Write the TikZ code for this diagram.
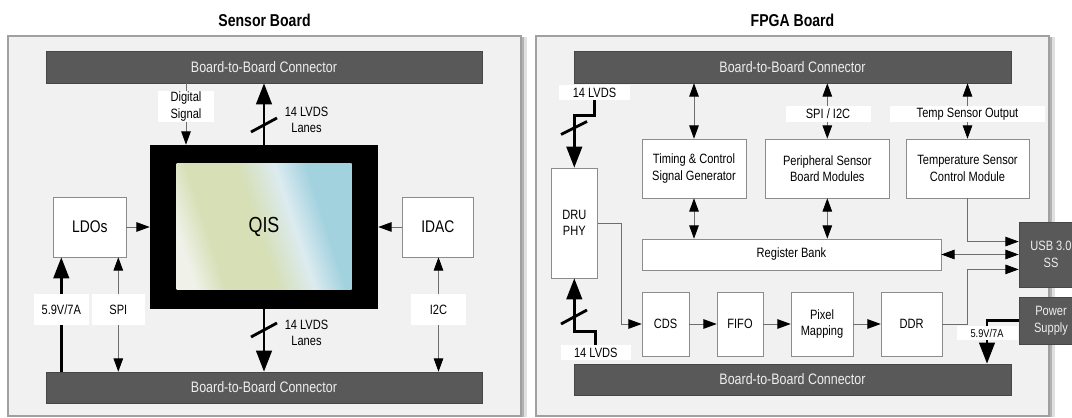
\documentclass[tikz,border=0pt]{standalone}
\usepackage{fontspec}
\setmainfont{Liberation Sans}[FakeStretch=0.82]
\usetikzlibrary{arrows.meta}
\usetikzlibrary{shadows}

\definecolor{panelbg}{HTML}{F1F1F1}
\definecolor{panelline}{HTML}{A0A0A0}
\definecolor{conngray}{HTML}{595959}
\definecolor{connline}{HTML}{474747}
\definecolor{conntext}{HTML}{EEEEEE}
\definecolor{boxline}{HTML}{8C8C8C}
\definecolor{linegray}{HTML}{6E6E6E}
\definecolor{qisa}{HTML}{F0F2EA}
\definecolor{qisb}{HTML}{D6DFB6}
\definecolor{qisc}{HTML}{DCEBF0}
\definecolor{qisd}{HTML}{A3D2DF}

\pgfdeclarehorizontalshading{qisshade}{100bp}{color(0bp)=(qisa); color(24bp)=(qisa); color(33bp)=(qisb); color(48bp)=(qisb); color(59bp)=(qisc); color(68bp)=(qisd); color(100bp)=(qisd)}

\newcommand{\pxl}{0.025cm}
\newcommand{\lbl}{\fontsize{9.6}{11.8}\selectfont}

\begin{document}
\begin{tikzpicture}[%
  x=\pxl, y=-\pxl,
  >={Triangle[length=9.5pt,width=6.8pt,color=black]},
  panel/.style 2 args={draw=panelline, fill=panelbg, line width=0.9pt,
    minimum width=#1*\pxl, minimum height=#2*\pxl, inner sep=0pt,
    drop shadow={shadow xshift=4pt, shadow yshift=-1pt, opacity=0.12, fill=black},
    drop shadow={shadow xshift=2pt, shadow yshift=-1pt, opacity=0.2, fill=black}},
  conn/.style 2 args={draw=connline, fill=conngray, text=conntext,
    minimum width=#1*\pxl, minimum height=#2*\pxl, inner sep=0pt,
    font=\fontsize{10.8}{12}\selectfont, align=center},
  box/.style 2 args={draw=boxline, fill=white, minimum width=#1*\pxl,
    minimum height=#2*\pxl, inner sep=0pt, font=\lbl, align=center},
  tag/.style 2 args={fill=white, minimum width=#1*\pxl,
    minimum height=#2*\pxl, inner sep=0pt, font=\lbl, align=center},
  note/.style={inner sep=0pt, font=\lbl, align=center},
  title/.style={font=\bfseries\fontsize{12.2}{14}\selectfont},
  sig/.style={draw=linegray, line width=0.6pt},
  bus/.style={line width=2pt, black, >={Triangle[length=15pt,width=11pt]}},
  slash/.style={line width=2pt, black},
]

  \useasboundingbox (0,0) rectangle (1072,418);
  \fill[white] (0,0) rectangle (1072,418);

  % boards
  \node[panel={513}{380}] (pl) at (264.5,226) {};
  \node[panel={513}{380}] (pr) at (792.5,226) {};
  \node[title] (tl) at (264.5,20) {Sensor Board};
  \node[title] (tr) at (792.5,20) {FPGA Board};

  % sensor board
  \node[conn={436}{32}] (topl) at (264,67) {Board-to-Board Connector};
  \node[conn={436}{31}] (botl) at (264,387.5) {Board-to-Board Connector};

  \node[fill=black, minimum width=228*\pxl, minimum height=164*\pxl] (qis) at (264,227) {};
  \node[shade, shading=qisshade, shading angle=18, minimum width=175*\pxl,
    minimum height=126*\pxl, font=\fontsize{15.5}{17}\selectfont] (qisin) at (264,227) {QIS};

  \node[box={72.5}{60}, font=\fontsize{12}{14}\selectfont] (ldo) at (89.8,227) {LDOs};
  \node[box={71.7}{60}, font=\fontsize{12}{14}\selectfont] (idac) at (437.9,227) {IDAC};

  \node[tag={56}{31}] (dig) at (186,106.5) {Digital\\Signal};
  \node[tag={54.5}{31}] (pwrl) at (61.3,309.5) {5.9V/7A};
  \node[tag={53.6}{31}] (spil) at (118.3,309.5) {SPI};
  \node[tag={55}{31}] (i2cl) at (438.5,309.5) {I2C};
  \node[note] (lvt) at (306.5,120) {14 LVDS\\Lanes};
  \node[note] (lvb) at (306.5,333) {14 LVDS\\Lanes};

  \draw[sig] (topl.south -| dig) -- (dig.north);
  \draw[sig,->] (dig.south) -- (qis.north -| dig);
  \draw[bus,->] (qis.north) -- (topl.south -| qis);
  \draw[bus,->] (qis.south) -- (botl.north -| qis);
  \draw[slash] (251,132) -- (277,118);
  \draw[slash] (251,337) -- (277,323);
  \draw[sig,->] (ldo.east) -- (qis.west |- ldo.east);
  \draw[sig,->] (idac.west) -- (qis.east |- idac.west);
  \draw[bus] (botl.north -| pwrl) -- (pwrl.south);
  \draw[bus,->] (pwrl.north) -- (ldo.south -| pwrl);
  \draw[sig,<-] (ldo.south -| spil) -- (spil.north);
  \draw[sig,->] (spil.south) -- (botl.north -| spil);
  \draw[sig,<-] (idac.south -| i2cl) -- (i2cl.north);
  \draw[sig,->] (i2cl.south) -- (botl.north -| i2cl);

  % fpga board
  \node[conn={437}{32}] (topr) at (792.5,67) {Board-to-Board Connector};
  \node[conn={437}{31}] (botr) at (792.5,379.5) {Board-to-Board Connector};

  \node[box={104}{59}] (timing) at (694,168.5) {Timing \& Control\\Signal Generator};
  \node[box={123.5}{59}] (periph) at (827.3,168.5) {Peripheral Sensor\\Board Modules};
  \node[box={123}{59}] (temp) at (967.5,168.5) {Temperature Sensor\\Control Module};
  \node[box={46.5}{110}] (dru) at (574.3,223) {DRU\\PHY};
  \node[box={299}{31}] (reg) at (791.5,254.5) {Register Bank};
  \node[box={47}{64}] (cds) at (665.5,324) {CDS};
  \node[box={46}{64}] (fifo) at (740,324) {FIFO};
  \node[box={62}{64}] (pix) at (822,324) {Pixel\\Mapping};
  \node[box={61}{64}] (ddr) at (911.5,324) {DDR};
  \node[conn={64}{65}, font=\lbl] (usb) at (1051,254.5) {USB 3.0\\SS};
  \node[conn={64}{47}, font=\lbl] (pwr) at (1051,320.5) {Power\\Supply};

  \node[tag={71}{15}] (lvdst) at (594.5,92.5) {14 LVDS};
  \node[tag={70.5}{15}] (lvdsb) at (595.8,352.5) {14 LVDS};
  \node[tag={85}{16}] (spir) at (828,114) {SPI / I2C};
  \node[tag={155}{16}] (tempo) at (967.5,114) {Temp Sensor Output};
  \node[tag={61}{14}, font=\fontsize{8}{9}\selectfont] (pwrr) at (987,333) {5.9V/7A};

  \draw[bus,->] (lvdst.south) -- ++(0,15) -| (dru.north);
  \draw[bus,->] (lvdsb.north) -- ++(0,-13) -| (dru.south);
  \draw[slash] (561,134.5) -- (587,121.5);
  \draw[slash] (561,324) -- (587,310);

  \draw[sig,<->] (topr.south -| timing) -- (timing.north);
  \draw[sig,<->] (timing.south) -- (reg.north -| timing);
  \draw[sig,<-] (topr.south -| periph) -- (spir.north -| periph);
  \draw[sig,->] (spir.south -| periph) -- (periph.north);
  \draw[sig,<->] (periph.south) -- (reg.north -| periph);
  \draw[sig,<-] (topr.south -| temp) -- (tempo.north);
  \draw[sig,->] (tempo.south) -- (temp.north);

  \draw[sig,->] (dru.east) -- ++(23.5,0) |- (cds.west);
  \draw[sig,->] (cds.east) -- (fifo.west);
  \draw[sig,->] (fifo.east) -- (pix.west);
  \draw[sig,->] (pix.east) -- (ddr.west);

  \draw[sig,->] (temp.south) |- ([yshift=9.2pt]usb.west);
  \draw[sig,<->] (reg.east) -- (usb.west |- reg.east);
  \draw[sig,->] (ddr.east) -- (ddr.east -| temp) |- ([yshift=-10.6pt]usb.west);

  \draw[bus] (pwr.west) -| (pwrr.north);
  \draw[bus,->] (pwrr.south) -- (botr.north -| pwrr);

\end{tikzpicture}
\end{document}
